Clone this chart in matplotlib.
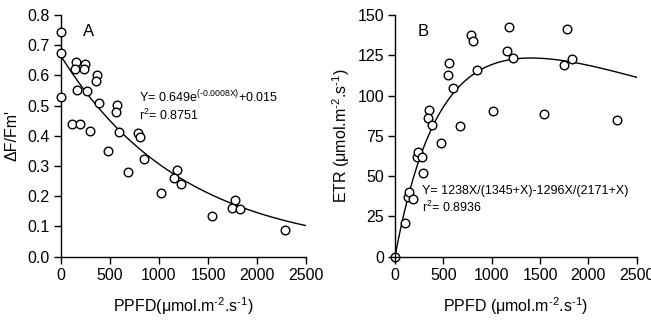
import numpy as np
import matplotlib
matplotlib.use("Agg")
import matplotlib.pyplot as plt

plt.rcParams['font.family'] = ['Liberation Sans', 'DejaVu Sans']
plt.rcParams['mathtext.fontset'] = 'custom'
plt.rcParams['mathtext.rm'] = 'Liberation Sans'
plt.rcParams['mathtext.it'] = 'Liberation Sans'

# Panel A data: PPFD vs effective quantum yield
a_x = [0, 0, 0, 150, 143, 245, 238, 364, 354, 167, 269, 384, 568, 558, 112, 194,
       293, 595, 789, 806, 476, 844, 680, 1180, 1153, 1221, 1017, 1772, 1748, 1827,
       1544, 2286]
a_y = [0.745, 0.673, 0.530, 0.646, 0.621, 0.637, 0.621, 0.602, 0.583, 0.552, 0.548,
       0.510, 0.502, 0.480, 0.439, 0.438, 0.416, 0.412, 0.411, 0.395, 0.350, 0.322,
       0.281, 0.287, 0.262, 0.239, 0.210, 0.188, 0.160, 0.159, 0.136, 0.088]

# Panel B data: PPFD vs ETR
b_x = [0, 103, 138, 148, 189, 231, 241, 276, 293, 476, 355, 344, 379, 558, 551, 597,
       672, 786, 803, 845, 1017, 1155, 1182, 1223, 1544, 1751, 1782, 1834, 2292]
b_y = [0, 20.7, 36.9, 40.2, 35.6, 61.7, 65.2, 61.7, 51.8, 70.4, 91.0, 86.3, 81.9,
       120.4, 112.8, 104.5, 81.1, 137.4, 134.1, 115.7, 90.6, 127.9, 142.8, 123.5,
       88.6, 118.8, 141.3, 122.5, 84.9]

# fitted model parameters (from the equations printed on the chart)
a_amp, a_k, a_c = 0.649, -0.0008, 0.015
b_p = (1238, 1345, 1296, 2171)

x_ticks = [0, 500, 1000, 1500, 2000, 2500]
a_yticks = [0.0, 0.1, 0.2, 0.3, 0.4, 0.5, 0.6, 0.7, 0.8]
b_yticks = [0, 25, 50, 75, 100, 125, 150]

W, H = 651, 322
fig = plt.figure(figsize=(W / 100, H / 100), dpi=100)
axA = fig.add_axes([61 / W, 1 - 256.7 / H, 245 / W, 241.7 / H])
axB = fig.add_axes([395 / W, 1 - 256.7 / H, 241.7 / W, 241.7 / H])

fs = 11.5
for ax in (axA, axB):
    for s in ('top', 'right'):
        ax.spines[s].set_visible(False)
    for s in ('left', 'bottom'):
        ax.spines[s].set_linewidth(1.0)
    ax.tick_params(direction='out', length=5, width=1.0, labelsize=fs, pad=3)
    ax.set_xlim(0, 2500)
    ax.set_xticks(x_ticks)

xs = np.linspace(0, 2500, 400)

mk = dict(mfc='white', mec='black', ms=6.2, mew=1.0, clip_on=False, zorder=5)

unit = r"(μmol.m$^{\text{-}2}$.s$^{\text{-}1}$)"

# Panel A
axA.plot(xs, a_amp * np.exp(a_k * xs) + a_c, color='black', lw=1.0)
axA.plot(a_x, a_y, 'o', **mk)
axA.set_ylim(0, 0.8)
axA.set_yticks(a_yticks)
axA.set_yticklabels([f"{v:.1f}" for v in a_yticks])
axA.set_ylabel("ΔF/Fm'", fontsize=fs, labelpad=6)
axA.set_xlabel("PPFD" + unit, fontsize=fs, labelpad=9)
axA.text(0.09, 0.93, "A", transform=axA.transAxes, fontsize=12, va='center', ha='left')
axA.text(0.318, 0.66, r"Y= 0.649e$^{(\text{-}0.0008X)}$+0.015", transform=axA.transAxes,
         fontsize=9, va='center', ha='left')
axA.text(0.318, 0.585, "r$^2$= 0.8751", transform=axA.transAxes, fontsize=9,
         va='center', ha='left')

# Panel B
yb = b_p[0] * xs / (b_p[1] + xs) - b_p[2] * xs / (b_p[3] + xs)
axB.plot(xs, yb, color='black', lw=1.0)
axB.plot(b_x, b_y, 'o', **mk)
axB.plot([0], [0], marker='+', color='black', ms=6.5, mew=1.0, clip_on=False, zorder=6)
axB.set_ylim(0, 150)
axB.set_yticks(b_yticks)
axB.set_ylabel("ETR " + unit, fontsize=fs, labelpad=4)
axB.set_xlabel("PPFD " + unit, fontsize=fs, labelpad=9)
axB.text(0.095, 0.93, "B", transform=axB.transAxes, fontsize=12, va='center', ha='left')
axB.text(0.11, 0.272, "Y= 1238X/(1345+X)-1296X/(2171+X)", transform=axB.transAxes, fontsize=9,
         va='center', ha='left')
axB.text(0.11, 0.205, "r$^2$= 0.8936", transform=axB.transAxes, fontsize=9,
         va='center', ha='left')

fig.savefig("out.png", dpi=100)
